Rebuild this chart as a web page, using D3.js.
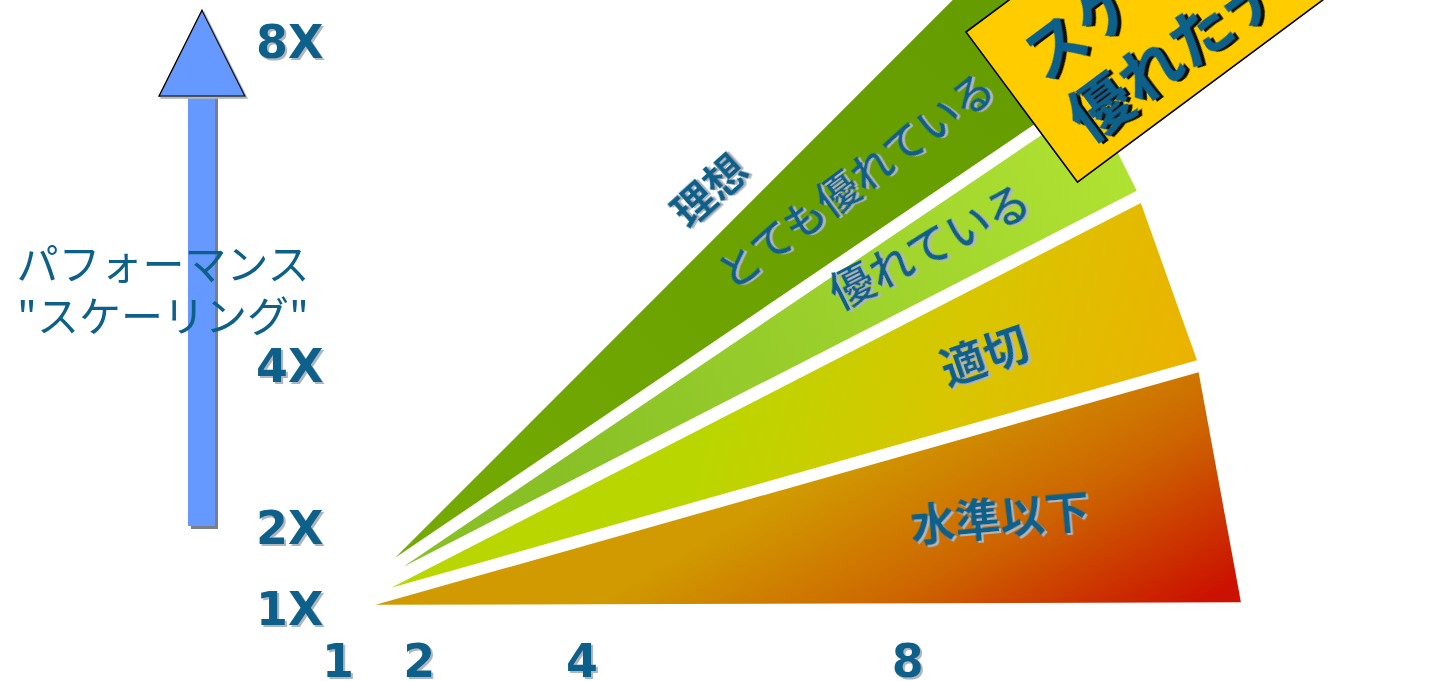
<!DOCTYPE html>
<meta charset="utf-8">
<style>

body {
  margin: 0;
  background: #fff;
}

svg {
  display: block;
}

.axis text {
  font-family: "DejaVu Sans", sans-serif;
  font-weight: bold;
  font-size: 46px;
  fill: #0d6189;
}

.jp {
  font-family: "Noto Sans CJK JP", sans-serif;
  fill: #0d6189;
}

</style>
<svg width="1447" height="681"></svg>
<script src="https://cdn.jsdelivr.net/npm/d3@7"></script>
<script>

// ticks on both axes
var xTicks = [1, 2, 4, 8],
    yTicks = [1, 2, 4, 8],
    yTickLabels = ["1X", "2X", "4X", "8X"];

// wedge corners as [processors, speedup]
var poorBand  = [[1.47, 1.04], [11.58, 3.91], [12.10, 1.07]],
    fairBand  = [[1.66, 1.25], [10.87, 6.00], [11.56, 4.06]],
    goodBand  = [[1.81, 1.51], [10.27, 7.26], [10.82, 6.15]],
    greatBand = [[1.71, 1.62], [9.05, 9.00], [10.00, 9.00], [10.00, 7.27]];

var bandNames = ["水準以下", "適切", "優れている", "とても優れている"],
    idealName = "理想",
    axisTitle = ["パフォーマンス", "\"スケーリング\""],
    boxLines = ["スケーラビリティに", "優れたデザイン"];

// arrow runs from 2X up past 8X
var arrowSpan = [2, 8.38];

var svg = d3.select("svg"),
    width = +svg.attr("width"),
    height = +svg.attr("height");

var x = d3.scaleLinear().domain([0, 8]).range([256, 907.2]),
    y = d3.scaleLinear().domain([0, 8]).range([689, 41]);

var defs = svg.append("defs");

function shadow(id, color, d) {
  defs.append("filter")
      .attr("id", id)
      .attr("x", "-10%").attr("y", "-10%")
      .attr("width", "130%").attr("height", "130%")
    .append("feDropShadow")
      .attr("dx", d).attr("dy", d)
      .attr("stdDeviation", 0.4)
      .attr("flood-color", color)
      .attr("flood-opacity", 1);
}
shadow("grey", "#aeb7c0", 2);
shadow("dark", "#111", 3);

function gradient(id, p0, p1, stops) {
  var g = defs.append("linearGradient")
      .attr("id", id)
      .attr("gradientUnits", "userSpaceOnUse")
      .attr("x1", p0[0]).attr("y1", p0[1])
      .attr("x2", p1[0]).attr("y2", p1[1]);
  stops.forEach(function(s) {
    g.append("stop").attr("offset", s[0]).attr("stop-color", s[1]);
  });
}
gradient("poor", [1000, 370], [1150, 630], [[0, "#d09a00"], [0.5, "#cd6400"], [1, "#cb1200"]]);
gradient("fair", [760, 260], [1180, 380], [[0, "#bad600"], [0.5, "#d8c600"], [1, "#ebb300"]]);
gradient("good", [560, 480], [1130, 170], [[0, "#88c026"], [1, "#b0e232"]]);
gradient("great", [420, 560], [1000, 40], [[0, "#74aa02"], [1, "#659c00"]]);

// arrow behind everything
var ax = 202,
    yTop = y(arrowSpan[1]),
    yBase = y(arrowSpan[1]) + 86,
    yEnd = y(arrowSpan[0]);

svg.append("rect")
    .attr("x", ax - 13 + 2).attr("y", yBase).attr("width", 27).attr("height", yEnd - yBase + 2)
    .attr("fill", "#7a7f88");
svg.append("rect")
    .attr("x", ax - 14).attr("y", yBase - 1).attr("width", 27).attr("height", yEnd - yBase)
    .attr("fill", "#6699ff");
svg.append("path")
    .attr("d", "M" + ax + "," + yTop + "L" + (ax + 43) + "," + yBase + "L" + (ax - 43) + "," + yBase + "Z")
    .attr("fill", "#6699ff")
    .attr("stroke", "#000")
    .attr("stroke-width", 1.3)
    .attr("filter", "url(#grey)");

// wedges
var line = d3.line()
    .x(function(d) { return x(d[0]); })
    .y(function(d) { return y(d[1]); })
    .curve(d3.curveLinearClosed);

svg.selectAll("path.band")
    .data([["poor", poorBand], ["fair", fairBand], ["good", goodBand], ["great", greatBand]])
  .enter().append("path")
    .attr("class", "band")
    .attr("d", function(d) { return line(d[1]); })
    .attr("fill", function(d) { return "url(#" + d[0] + ")"; });

// axes
var xAxis = svg.append("g")
    .attr("class", "axis")
    .attr("transform", "translate(0,644)")
    .call(d3.axisBottom(x).tickValues(xTicks).tickSize(0).tickPadding(0).tickFormat(d3.format("d")));

var yAxis = svg.append("g")
    .attr("class", "axis")
    .attr("transform", "translate(256,0)")
    .call(d3.axisRight(y).tickValues(yTicks).tickSize(0).tickPadding(0)
      .tickFormat(function(d, i) { return yTickLabels[i]; }));

svg.selectAll(".axis")
    .attr("font-size", null)
    .attr("font-family", null)
    .attr("filter", "url(#grey)");
svg.selectAll(".axis .domain").remove();
xAxis.selectAll("text").attr("dy", "0.72em");
yAxis.selectAll("text").attr("dy", "0.36em");

// y axis title
svg.append("text")
    .attr("class", "jp")
    .attr("text-anchor", "middle")
    .attr("font-size", 42)
  .selectAll("tspan")
    .data(axisTitle)
  .enter().append("tspan")
    .attr("x", 163)
    .attr("y", function(d, i) { return 280 + i * 52; })
    .text(function(d) { return d; });

// labels on the wedges
var labels = [
  {text: idealName,    cx: 710,  cy: 191, angle: -42,   size: 42, weight: 700},
  {text: bandNames[3], cx: 856,  cy: 181, angle: -36.5, size: 42, weight: 500},
  {text: bandNames[2], cx: 930,  cy: 247, angle: -27,   size: 44, weight: 500},
  {text: bandNames[1], cx: 985,  cy: 357, angle: -19,   size: 45, weight: 700},
  {text: bandNames[0], cx: 1000, cy: 519, angle: -5,    size: 45, weight: 700}
];

svg.selectAll("text.band-label")
    .data(labels)
  .enter().append("text")
    .attr("class", "band-label jp")
    .attr("text-anchor", "middle")
    .attr("dy", "0.36em")
    .attr("font-size", function(d) { return d.size; })
    .attr("font-weight", function(d) { return d.weight; })
    .attr("filter", "url(#grey)")
    .attr("transform", function(d) { return "translate(" + d.cx + "," + d.cy + ")rotate(" + d.angle + ")"; })
    .text(function(d) { return d.text; });

// the yellow call-out box
var box = svg.append("g")
    .attr("transform", "translate(966,32)rotate(-36.6)");

box.append("rect")
    .attr("width", 560)
    .attr("height", 187)
    .attr("fill", "#ffcc00")
    .attr("stroke", "#000")
    .attr("stroke-width", 1.6);

box.append("text")
    .attr("class", "jp")
    .attr("font-size", 62)
    .attr("font-weight", 600)
    .attr("filter", "url(#dark)")
  .selectAll("tspan")
    .data(boxLines)
  .enter().append("tspan")
    .attr("x", 32)
    .attr("y", function(d, i) { return 88 + i * 76; })
    .text(function(d) { return d; });

</script>
